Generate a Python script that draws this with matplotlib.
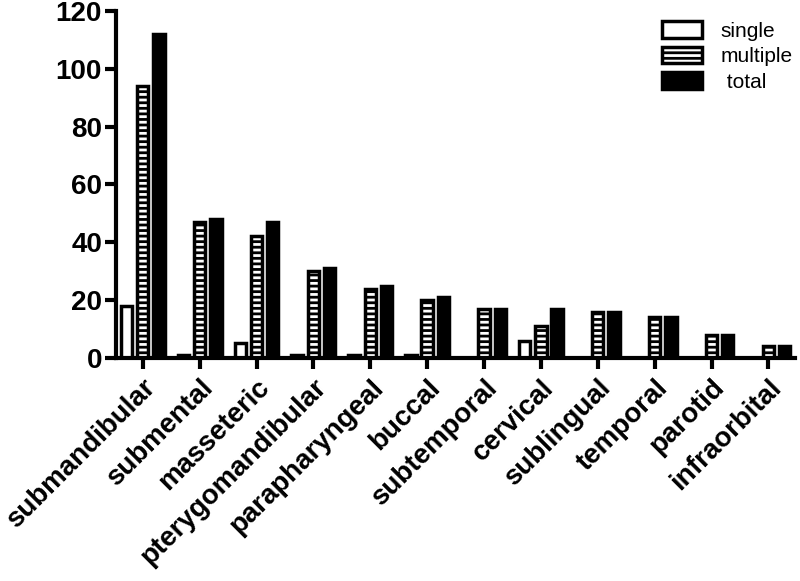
import numpy as np
import matplotlib.pyplot as plt

plt.rcParams['font.family'] = ['Liberation Sans', 'DejaVu Sans']
plt.rcParams['hatch.linewidth'] = 2.0

categories = ["submandibular", "submental", "masseteric", "pterygomandibular",
              "parapharyngeal", "buccal", "subtemporal", "cervical",
              "sublingual", "temporal", "parotid", "infraorbital"]
single = [18, 1, 5, 1, 1, 1, 0, 6, 0, 0, 0, 0]
multiple = [94, 47, 42, 30, 24, 20, 17, 11, 16, 14, 8, 4]
total = [112, 48, 47, 31, 25, 21, 17, 17, 16, 14, 8, 4]

x = np.arange(len(categories))
w = 0.2
off = 0.285

fig = plt.figure(figsize=(8, 5.81), dpi=100)
ax = fig.add_axes([0.145, 0.384, 0.849, 0.597])

ax.bar(x - off, single, w, color="white", edgecolor="black", linewidth=2.5,
       label="single")
ax.bar(x, multiple, w, color="white", edgecolor="black", linewidth=2.5,
       hatch="---", label="multiple")
ax.bar(x + off, total, w, color="black", edgecolor="black", linewidth=2.5,
       label=" total")

ax.set_xlim(-0.47, 11.47)
ax.set_ylim(0, 120)
ax.set_yticks([0, 20, 40, 60, 80, 100, 120])
ax.set_xticks(x)
ax.set_xticklabels(categories, rotation=45, ha="right", va="top",
                   rotation_mode="anchor", fontsize=20, fontweight="bold")
for lab in ax.get_yticklabels():
    lab.set_fontsize(20)
    lab.set_fontweight("bold")

for s in ["top", "right"]:
    ax.spines[s].set_visible(False)
for s in ["left", "bottom"]:
    ax.spines[s].set_linewidth(3)
ax.tick_params(axis="both", width=3, length=8, direction="out", pad=2)
ax.tick_params(axis="x", pad=4)

leg = ax.legend(loc="upper right", bbox_to_anchor=(1.018, 1.012), frameon=False,
                fontsize=15, handlelength=1.9, handleheight=0.85,
                labelspacing=0.28, handletextpad=0.9, borderaxespad=0.3)

fig.savefig("out.png", dpi=100)
